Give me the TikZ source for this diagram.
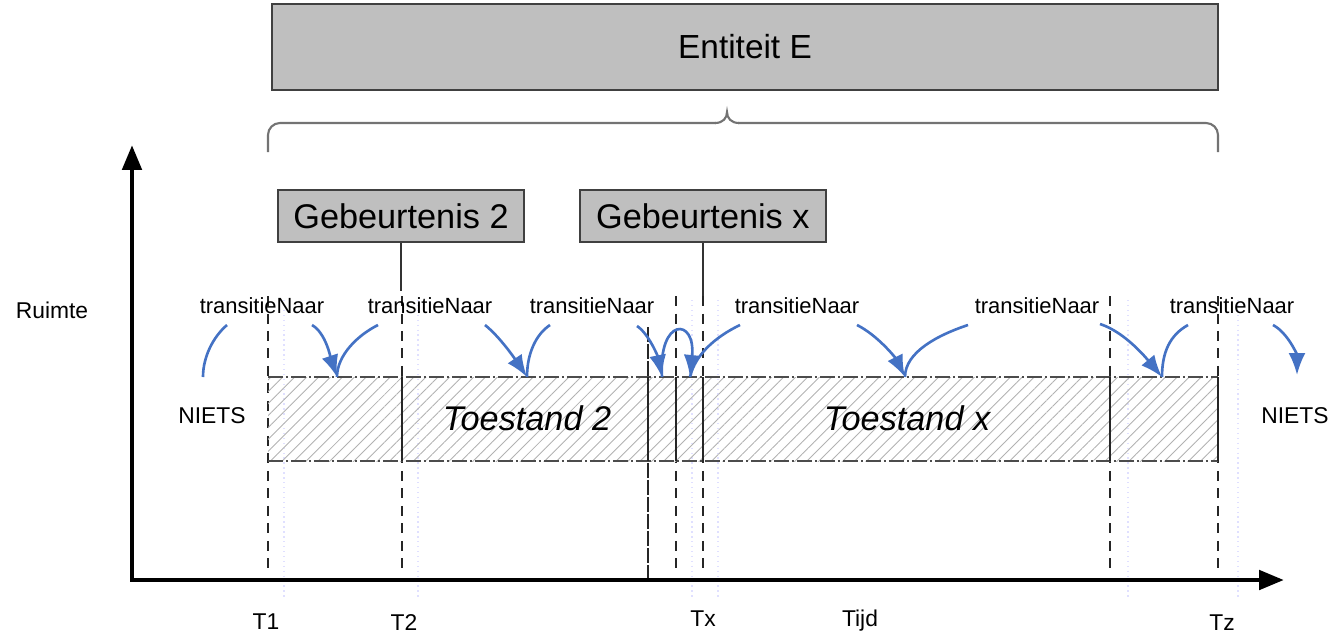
\documentclass[tikz,border=0pt]{standalone}
\usepackage{fontspec}
\setmainfont{Liberation Sans}
\usepackage{tikz}
\usetikzlibrary{arrows.meta,positioning,calc,patterns.meta}
\definecolor{transblue}{RGB}{68,114,196}
\tikzset{box/.style={draw=black!75, fill=black!25, line width=1.1pt, inner sep=0pt}}
\tikzset{line/.style={draw=transblue, line width=1.5pt, -{Latex[length=0.44cm,width=0.34cm]}}}
\tikzset{arcline/.style={draw=transblue, line width=1.5pt}}
\tikzset{tline/.style={draw=black!85, line width=1pt, dash pattern=on 0.2cm off 0.15cm}}
\tikzset{rimline/.style={draw=black!70, line width=1pt, dash pattern=on 0.3cm off 0.06cm on 0.04cm off 0.06cm}}
\tikzset{lbl/.style={font=\fontsize{12.5}{14}\selectfont, inner sep=0pt}}
\tikzset{big/.style={font=\fontsize{19.5}{22}\selectfont}}
\tikzset{axis/.style={draw, line width=2.8pt, {Triangle[length=0.5cm,width=0.38cm]}-{Triangle[length=0.5cm,width=0.38cm]}}}

\begin{document}
\begin{tikzpicture}[x=0.02cm,y=-0.02cm]
\useasboundingbox (0,0) rectangle (1334,636);
% faint guides
\foreach \gx in {284,418,692,718,1128,1238}
	\draw[blue!12, line width=0.8pt, dotted] (\gx,300) -- (\gx,600);
%
\node [box, big, minimum width=18.92cm, minimum height=1.72cm, font=\fontsize{19}{22}\selectfont] (ent) at (745,47) {Entiteit E};
\draw [black!55, line width=1.2pt, rounded corners=0.24cm] (268,152) |- (716,123);
\draw [black!55, line width=1.2pt] (715,123) .. controls (723,123) and (727,118) .. (727,112) .. controls (727,118) and (731,123) .. (739,123);
\draw [black!55, line width=1.2pt, rounded corners=0.24cm] (738,123) -| (1218,152);
%
\coordinate (ytop) at (132,145);
\coordinate (xend) at (1284,580);
\draw [axis] (ytop) |- (xend);
%
\node [box, big, minimum width=4.92cm, minimum height=1.05cm] (g2) at (401,216) {Gebeurtenis 2};
\node [box, big, minimum width=4.92cm, minimum height=1.05cm, right=1.08cm of g2] (gx) {Gebeurtenis x};
\draw [black!80, line width=0.8pt] (g2.south) -- ++(0,48);
\draw [black!80, line width=0.8pt] (gx.south) -- ++(0,58);
%
\foreach \tx in {268,402,676,703,1110,1218}
	\draw [tline] (\tx,296) -- (\tx,574);
\draw [black!85, line width=1pt, dash pattern=on 0.3cm off 0.04cm] (648,327) -- (648,578);
%
\fill [pattern={Lines[angle=45,distance=4.8pt,line width=0.5pt]}, pattern color=black!30] (268,377) rectangle (1218,461);
\draw [rimline] (268,377) -- (1218,377);
\draw [rimline] (268,461) -- (1218,461);
\foreach \dx in {402,648,676,703,1110,1218}
	\draw [black!85, line width=1pt] (\dx,377) -- (\dx,461);
%
\node [big, font=\fontsize{19.5}{22}\selectfont\itshape] (s2) at (527,418) {Toestand 2};
\node [big, font=\fontsize{19.5}{22}\selectfont\itshape] (sx) at (907,418) {Toestand x};
\node [lbl, font=\fontsize{13}{15}\selectfont] (ruimte) at (52,310) {Ruimte};
\node [lbl, font=\fontsize{13}{15}\selectfont] (niets1) at (212,416) {NIETS};
\node [lbl, font=\fontsize{13}{15}\selectfont] (niets2) at (1295,416) {NIETS};
\node [lbl, font=\fontsize{13}{15}\selectfont] (t1) at (266,622) {T1};
\node [lbl, font=\fontsize{13}{15}\selectfont] (t2) at (404,623) {T2};
\node [lbl, font=\fontsize{13}{15}\selectfont] (tx) at (703,619) {Tx};
\node [lbl, font=\fontsize{13}{15}\selectfont] (tijd) at (860,621) {Tijd};
\node [lbl, font=\fontsize{13}{15}\selectfont] (tz) at (1222,623) {Tz};
\foreach \nx [count=\i] in {262,430,592,797,1037,1232}
	\node [lbl] (tn\i) at (\nx,306) {transitieNaar};
%
\coordinate (p0) at (203,377);
\coordinate (p1) at (337,377);
\coordinate (p2) at (527,377);
\coordinate (p3) at (662,377);
\coordinate (p4) at (690,377);
\coordinate (p5) at (905,377);
\coordinate (p6) at (1162,377);
\coordinate (p7) at (1297,375);
%
\path [arcline] ($(tn1)+(-35,19)$) .. controls +(-14,12) and +(0,-20) .. (p0);
\path [line]    ($(tn1)+(50,19)$) .. controls +(14,8) and +(-6,-18) .. (p1);
\path [arcline] ($(tn2)+(-52,19)$) .. controls +(-20,10) and +(0,-22) .. (p1);
\path [line]    ($(tn2)+(55,19)$) .. controls +(15,12) and +(-12,-18) .. (p2);
\path [arcline] ($(tn3)+(-42,19)$) .. controls +(-15,10) and +(0,-22) .. (p2);
\path [line]    ($(tn3)+(45,20)$) .. controls +(12,8) and +(-4,-20) .. (p3);
\path [line]    (p3) .. controls +(-4,-60) and +(6,-60) .. (p4);
\path [arcline] ($(tn4)+(-57,19)$) .. controls +(-25,12) and +(5,-22) .. (p4);
\path [line]    ($(tn4)+(60,19)$) .. controls +(20,10) and +(-10,-20) .. (p5);
\path [arcline] ($(tn5)+(-69,19)$) .. controls +(-30,10) and +(0,-25) .. (p5);
\path [line]    ($(tn5)+(63,18)$) .. controls +(25,8) and +(-15,-18) .. (p6);
\path [arcline] ($(tn6)+(-44,19)$) .. controls +(-18,10) and +(0,-25) .. (p6);
\path [line]    ($(tn6)+(41,19)$) .. controls +(15,8) and +(0,-20) .. (p7);
\end{tikzpicture}
\end{document}
